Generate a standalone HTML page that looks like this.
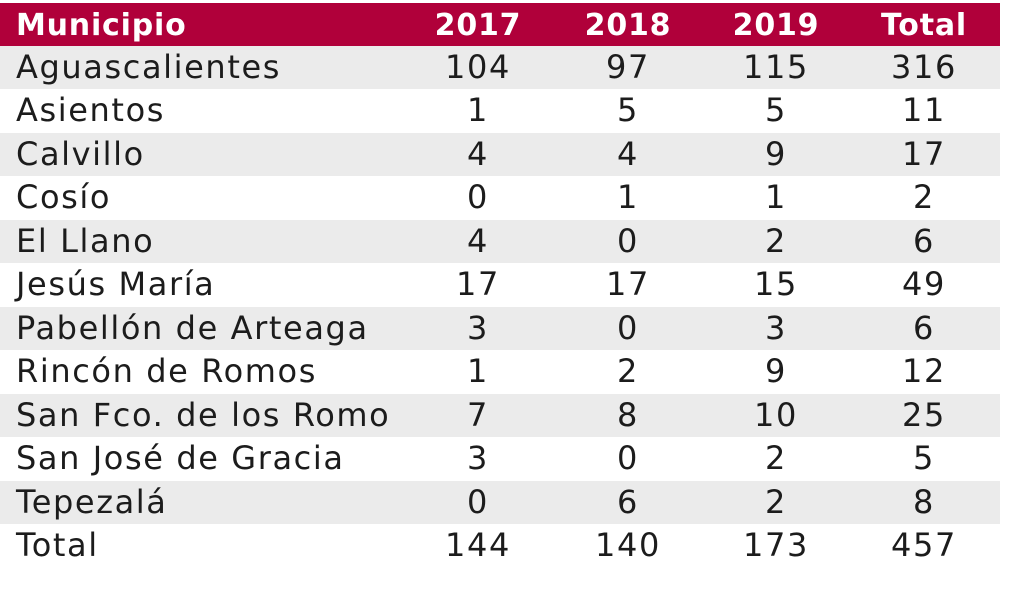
<!DOCTYPE html>
<html><head><meta charset="utf-8"><style>
body{margin:0;width:1024px;height:593px;background:#fff;font-family:"DejaVu Sans","Liberation Sans",sans-serif;overflow:hidden;position:relative}
.r{position:absolute;left:0;width:1000px;height:43.45px;line-height:43.45px;font-size:32px;letter-spacing:1.6px;color:#1c1c1c}
.g{background:#ebebeb}
.h{background:#b0003a;color:#fff;font-weight:bold;top:3px;height:43px;line-height:45px;font-size:30px;letter-spacing:0.8px}
.r span{position:absolute;text-align:center;width:140px}
.r span.n{left:16px;text-align:left;width:440px}
.a{left:408px}.b{left:558px}.c{left:706px}.d{left:854px}
</style></head><body>
<div class="r h"><span class="n">Municipio</span><span class="a">2017</span><span class="b">2018</span><span class="c">2019</span><span class="d">Total</span></div>
<div class="r g" style="top:46px"><span class="n">Aguascalientes</span><span class="a">104</span><span class="b">97</span><span class="c">115</span><span class="d">316</span></div>
<div class="r" style="top:89.45px"><span class="n">Asientos</span><span class="a">1</span><span class="b">5</span><span class="c">5</span><span class="d">11</span></div>
<div class="r g" style="top:132.9px"><span class="n">Calvillo</span><span class="a">4</span><span class="b">4</span><span class="c">9</span><span class="d">17</span></div>
<div class="r" style="top:176.35px"><span class="n">Cosío</span><span class="a">0</span><span class="b">1</span><span class="c">1</span><span class="d">2</span></div>
<div class="r g" style="top:219.8px"><span class="n">El Llano</span><span class="a">4</span><span class="b">0</span><span class="c">2</span><span class="d">6</span></div>
<div class="r" style="top:263.25px"><span class="n">Jesús María</span><span class="a">17</span><span class="b">17</span><span class="c">15</span><span class="d">49</span></div>
<div class="r g" style="top:306.7px"><span class="n">Pabellón de Arteaga</span><span class="a">3</span><span class="b">0</span><span class="c">3</span><span class="d">6</span></div>
<div class="r" style="top:350.15px"><span class="n">Rincón de Romos</span><span class="a">1</span><span class="b">2</span><span class="c">9</span><span class="d">12</span></div>
<div class="r g" style="top:393.6px"><span class="n">San Fco. de los Romo</span><span class="a">7</span><span class="b">8</span><span class="c">10</span><span class="d">25</span></div>
<div class="r" style="top:437.05px"><span class="n">San José de Gracia</span><span class="a">3</span><span class="b">0</span><span class="c">2</span><span class="d">5</span></div>
<div class="r g" style="top:480.5px"><span class="n">Tepezalá</span><span class="a">0</span><span class="b">6</span><span class="c">2</span><span class="d">8</span></div>
<div class="r" style="top:523.95px"><span class="n">Total</span><span class="a">144</span><span class="b">140</span><span class="c">173</span><span class="d">457</span></div>
</body></html>
